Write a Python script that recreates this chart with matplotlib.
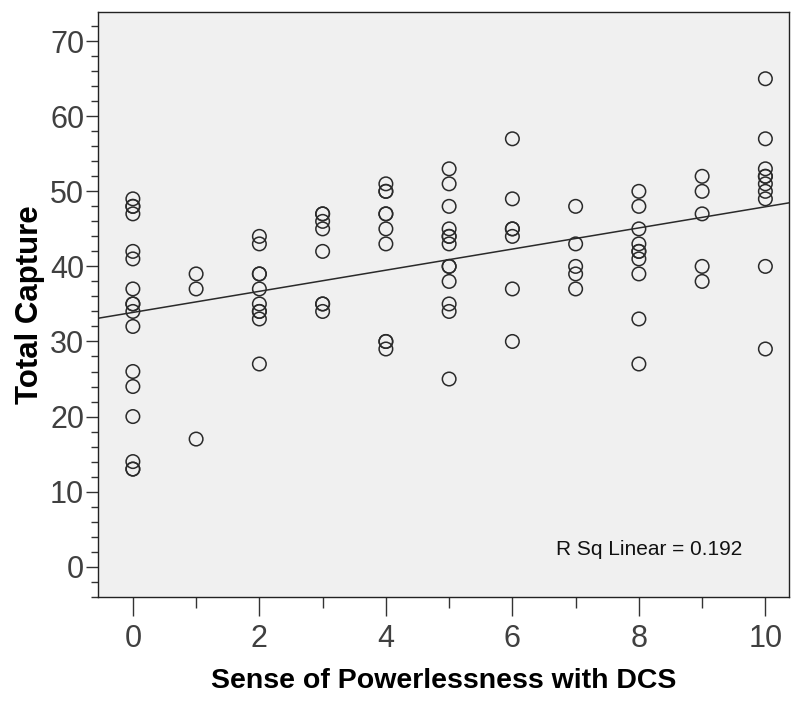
import matplotlib
matplotlib.use("Agg")
import matplotlib.pyplot as plt
import numpy as np
from matplotlib.ticker import MultipleLocator

# Sense of Powerlessness with DCS (x) -> Total Capture values (y)
powerless_levels = [0, 1, 2, 3, 4, 5, 6, 7, 8, 9, 10]
capture_by_level = [
    [49, 48, 48, 47, 42, 41, 37, 35, 35, 34, 32, 26, 24, 20, 14, 13, 13],
    [39, 37, 17],
    [44, 43, 39, 39, 37, 35, 34, 34, 33, 27],
    [47, 47, 46, 45, 42, 35, 35, 34],
    [51, 50, 50, 47, 47, 45, 43, 30, 30, 29],
    [53, 51, 48, 45, 44, 44, 43, 40, 40, 38, 35, 34, 25],
    [57, 49, 45, 45, 44, 37, 30],
    [48, 43, 40, 39, 37],
    [50, 48, 45, 43, 42, 42, 41, 39, 33, 27],
    [52, 50, 47, 40, 38],
    [65, 57, 53, 52, 52, 51, 50, 49, 40, 29],
]
r_sq_text = "R Sq Linear = 0.192"

x = np.concatenate([[lv] * len(v) for lv, v in zip(powerless_levels, capture_by_level)]).astype(float)
y = np.concatenate(capture_by_level).astype(float)

plt.rcParams["font.family"] = ["Liberation Sans", "DejaVu Sans"]

fig = plt.figure(figsize=(7.91, 7.02), dpi=100)
ax = fig.add_axes([0.124, 0.150, 0.874, 0.833])
ax.set_facecolor("#f0f0f0")

xlim = (-0.55, 10.38)
ax.set_xlim(*xlim)
ax.set_ylim(-4.0, 73.9)

ax.scatter(x, y, s=95, facecolors="none", edgecolors="#2a2a2a", linewidths=1.1, zorder=3)

# least squares fit line across the full axis
slope, intercept = np.polyfit(x, y, 1)
xs = np.array(xlim)
ax.plot(xs, intercept + slope * xs, color="#2a2a2a", linewidth=1.1, zorder=2)

ax.text(0.932, 0.08, r_sq_text, transform=ax.transAxes, ha="right", va="center",
        fontsize=15, color="#111111")

for s in ax.spines.values():
    s.set_color("#222222")
    s.set_linewidth(1.0)

ax.xaxis.set_major_locator(MultipleLocator(2))
ax.xaxis.set_minor_locator(MultipleLocator(1))
ax.yaxis.set_major_locator(MultipleLocator(10))
ax.yaxis.set_minor_locator(MultipleLocator(2))
ax.tick_params(axis="x", which="major", length=14, width=1, color="#333333", pad=6)
ax.tick_params(axis="x", which="minor", length=8, width=1, color="#333333")
ax.tick_params(axis="y", which="major", length=9, width=1, color="#333333", pad=1)
ax.tick_params(axis="y", which="minor", length=5, width=1, color="#333333")
for lab in ax.get_xticklabels() + ax.get_yticklabels():
    lab.set_fontsize(22)
    lab.set_color("#404040")

ax.set_xlabel("Sense of Powerlessness with DCS", fontsize=20.5, fontweight="bold", labelpad=10)
ax.set_ylabel("Total Capture", fontsize=22.5, fontweight="bold", labelpad=4)

fig.savefig("out.png", dpi=100)
